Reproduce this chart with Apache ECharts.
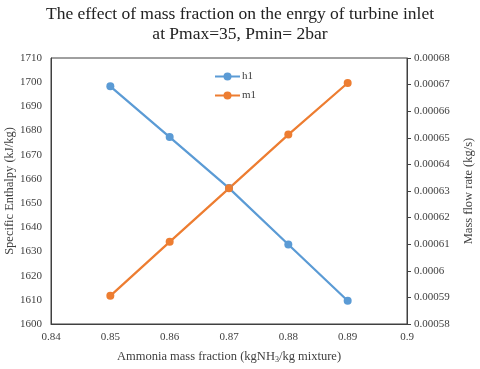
<!DOCTYPE html>
<html>
<head>
<meta charset="utf-8">
<script src="https://cdn.jsdelivr.net/npm/echarts@6/dist/echarts.min.js"></script>
<style>html,body{margin:0;padding:0;background:#fff}#c{width:480px;height:369px}</style>
</head>
<body>
<div id="c"></div>
<script>
var massFraction = [0.85, 0.86, 0.87, 0.88, 0.89];
var h1 = [1698.3, 1677.3, 1656.2, 1632.9, 1609.6];
var m1 = [0.0005906, 0.0006109, 0.0006310, 0.0006512, 0.0006706];
var titleText = 'The effect of mass fraction on the enrgy of turbine inlet\nat Pmax=35, Pmin= 2bar';

function fmt(v){ return parseFloat(v.toFixed(6)).toString(); }
var serif = '"Liberation Serif", "Times New Roman", serif';
var axisCol = '#404040';
var labCol = '#404040';

var chart = echarts.init(document.getElementById('c'), null, {renderer:'canvas'});
chart.setOption({
  animation: false,
  backgroundColor: '#fff',
  title: {
    text: titleText, left: 'center', top: -1,
    textStyle: {fontFamily: serif, fontSize: 17.5, fontWeight: 'normal', color: '#222', lineHeight: 20}
  },
  legend: {
    orient: 'vertical', left: 209, top: 66, itemGap: 8, itemWidth: 25, itemHeight: 10,
    textStyle: {fontFamily: serif, fontSize: 11, color: labCol, padding: [0, 0, 0, -3]},
    data: ['h1', 'm1']
  },
  grid: {left: 51, right: 73, top: 58, bottom: 45, show: true, borderColor: axisCol, borderWidth: 1,
         containLabel: false, outerBoundsMode: 'none'},
  xAxis: {
    type: 'value', min: 0.84, max: 0.9, interval: 0.01,
    name: '{a|Ammonia mass fraction (kgNH}{s|3}{a|/kg mixture)}', nameLocation: 'middle', nameGap: 26,
    nameMoveOverlap: false,
    nameTextStyle: {
      rich: {
        a: {fontFamily: serif, fontSize: 12.5, color: labCol},
        s: {fontFamily: serif, fontSize: 8, color: labCol, padding: [6, 0, 0, 0]}
      }
    },
    axisLine: {lineStyle: {color: axisCol, width: 1}},
    axisTick: {show: false},
    splitLine: {show: false},
    axisLabel: {fontFamily: serif, fontSize: 11, color: labCol, margin: 8, formatter: fmt}
  },
  yAxis: [{
    type: 'value', min: 1600, max: 1710, interval: 10,
    name: 'Specific Enthalpy (kJ/kg)', nameLocation: 'middle', nameGap: 35, nameMoveOverlap: false,
    nameTextStyle: {fontFamily: serif, fontSize: 12.5, color: labCol},
    axisLine: {show: true, lineStyle: {color: axisCol, width: 1}},
    axisTick: {show: false},
    splitLine: {show: false},
    axisLabel: {fontFamily: serif, fontSize: 11, color: labCol, margin: 9, formatter: function(v){ return String(v); }}
  }, {
    type: 'value', min: 0.00058, max: 0.00068, interval: 0.00001,
    name: 'Mass flow rate (kg/s)', nameLocation: 'middle', nameGap: 55, nameRotate: 90, nameMoveOverlap: false,
    nameTextStyle: {fontFamily: serif, fontSize: 12.5, color: labCol},
    axisLine: {show: true, lineStyle: {color: axisCol, width: 1}},
    axisTick: {show: true, length: 4, lineStyle: {color: axisCol}},
    splitLine: {show: false},
    axisLabel: {fontFamily: serif, fontSize: 11, color: labCol, margin: 7, formatter: fmt}
  }],
  series: [{
    name: 'h1', type: 'line', yAxisIndex: 0,
    data: massFraction.map(function(x, i){ return [x, h1[i]]; }),
    symbol: 'circle', symbolSize: 8,
    itemStyle: {color: '#5B9BD5'}, lineStyle: {color: '#5B9BD5', width: 2.25}
  }, {
    name: 'm1', type: 'line', yAxisIndex: 1,
    data: massFraction.map(function(x, i){ return [x, m1[i]]; }),
    symbol: 'circle', symbolSize: 8,
    itemStyle: {color: '#ED7D31'}, lineStyle: {color: '#ED7D31', width: 2.25}
  }]
});
</script>
</body>
</html>
